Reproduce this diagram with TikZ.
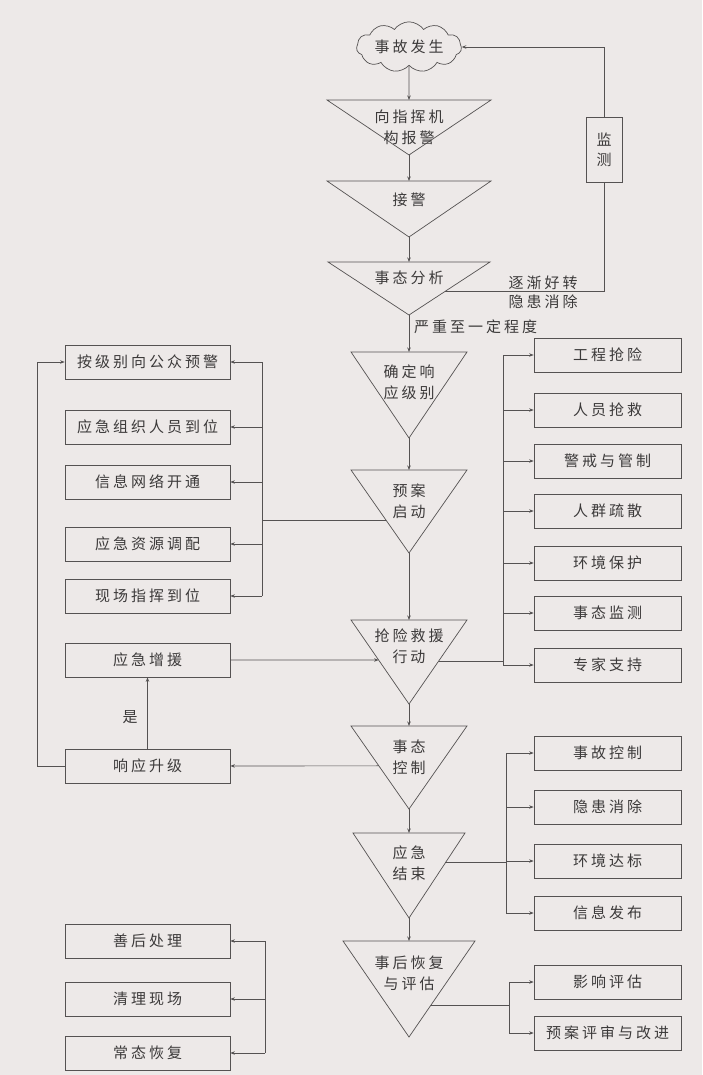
\documentclass[tikz,border=0pt]{standalone}
\usepackage{fontspec}
\setmainfont{Noto Sans CJK SC}[LetterSpace=20]
\usetikzlibrary{shapes.symbols,arrows.meta,calc}
\definecolor{bgc}{RGB}{237,233,232}
\definecolor{lnc}{RGB}{85,82,82}
\definecolor{txc}{RGB}{60,58,58}
% triangle: name, x, top, apex, half width, text y, text
\newcommand\tri[7]{%
  \coordinate (#1-tl) at (#2-#5,#3);
  \coordinate (#1-tr) at (#2+#5,#3);
  \coordinate (#1-t) at (#2,#3);
  \coordinate (#1-b) at (#2,#4);
  \draw[ln] (#1-tl) -- (#1-tr) -- (#1-b) -- cycle;
  \node[lbl] (#1) at (#2,#6) {#7};}
\begin{document}
\begin{tikzpicture}
  [x=1pt,y=-1pt,
   ln/.style={draw=lnc,line width=0.7pt},
   arr/.style={ln,-{Stealth[length=4.5pt,width=3.5pt]}},
   lbl/.style={align=center,inner sep=0pt,text=txc,font=\fontsize{15}{21}\selectfont},
   box/.style={ln,lbl,minimum width=165pt,minimum height=34pt},
   rbox/.style={box,minimum width=147pt},
   cld/.style={ln,lbl,cloud,cloud puffs=11,cloud puff arc=110,aspect=2.6,
     minimum width=105pt,minimum height=40pt},
   every edge/.style={arr}]
  \fill[bgc] (0,0) rectangle (702,1075);
  \useasboundingbox (0,0) rectangle (702,1075);

  \node[cld] (n0) at (409,47) {事故发生};
  \tri{t1}{409}{100}{155}{82}{127.5}{向指挥机\\构报警}
  \tri{t2}{409}{181}{237}{82}{200}{接警}
  \tri{t3}{409}{262}{315}{81}{278}{事态分析}
  \tri{t4}{409}{352}{438}{58}{382.5}{确定响\\应级别}
  \tri{t5}{409}{470}{553}{58}{501}{预案\\启动}
  \tri{t6}{409}{620}{704}{58}{646}{抢险救援\\行动}
  \tri{t7}{409}{726}{809}{58}{757}{事态\\控制}
  \tri{t8}{409}{833}{918}{56}{863.5}{应急\\结束}
  \tri{t9}{409}{941}{1037}{66}{973.5}{事后恢复\\与评估}

  \node[box,minimum width=36pt,minimum height=65pt,font=\fontsize{15}{20}\selectfont] (mon) at (604,150) {监\\测};
  \node[lbl,font=\fontsize{15}{19}\selectfont] (p1) at (543,292.5) {逐渐好转\\隐患消除};
  \node[lbl,anchor=west] (p2) at (414,327) {严重至一定程度};
  \node[lbl] (p3) at (130,717) {是};

  \node[box] (l1) at (147.5,362) {按级别向公众预警};
  \node[box] (l2) at (147.5,427) {应急组织人员到位};
  \node[box] (l3) at (147.5,482) {信息网络开通};
  \node[box] (l4) at (147.5,544) {应急资源调配};
  \node[box] (l5) at (147.5,596) {现场指挥到位};
  \node[box] (l6) at (147.5,660) {应急增援};
  \node[box] (l7) at (147.5,766) {响应升级};
  \node[box] (l8) at (147.5,941) {善后处理};
  \node[box] (l9) at (147.5,999) {清理现场};
  \node[box] (l10) at (147.5,1053) {常态恢复};

  \node[rbox] (r1) at (607.5,355) {工程抢险};
  \node[rbox] (r2) at (607.5,410) {人员抢救};
  \node[rbox] (r3) at (607.5,461) {警戒与管制};
  \node[rbox] (r4) at (607.5,511) {人群疏散};
  \node[rbox] (r5) at (607.5,563) {环境保护};
  \node[rbox] (r6) at (607.5,613) {事态监测};
  \node[rbox] (r7) at (607.5,665) {专家支持};
  \node[rbox] (r8) at (607.5,753) {事故控制};
  \node[rbox] (r9) at (607.5,807) {隐患消除};
  \node[rbox] (r10) at (607.5,861) {环境达标};
  \node[rbox] (r11) at (607.5,913) {信息发布};
  \node[rbox] (r12) at (607.5,982) {影响评估};
  \node[rbox] (r13) at (607.5,1033) {预案评审与改进};

  \coordinate (lb) at (262,0);
  \coordinate (lc) at (265,0);
  \coordinate (ra) at (503,0);
  \coordinate (rb) at (506,0);
  \coordinate (rc) at (509,0);
  \coordinate (c1) at ($(t3-tr)!0.55!(t3-b)$);
  \coordinate (c2) at ($(t5-tl)!0.61!(t5-b)$);
  \coordinate (c3) at ($(t6-tl)!0.476!(t6-b)$);
  \coordinate (c4) at ($(t7-tl)!0.48!(t7-b)$);
  \coordinate (c5) at ($(t6-tr)!0.49!(t6-b)$);
  \coordinate (c6) at ($(t8-tr)!0.35!(t8-b)$);
  \coordinate (c7) at ($(t9-tr)!0.67!(t9-b)$);

\path
    (n0) edge (t1-t)
    (t1-b) edge (t2-t)
    (t2-b) edge (t3-t)
    (t3-b) edge (t4-t)
    (t4-b) edge (t5-t)
    (t5-b) edge (t6-t)
    (t6-b) edge (t7-t)
    (t7-b) edge (t8-t)
    (t8-b) edge (t9-t)
    ;

  \draw[ln] (c1) -| (mon.south);
  \draw[arr] (mon.north) |- (n0.east);

  \draw[ln] (lb |- l1) -- (lb |- l5);
  \draw[ln] (c2) -- (c2 -| lb);
\path
    (lb |- l1) edge (l1)
    (lb |- l2) edge (l2)
    (lb |- l3) edge (l3)
    (lb |- l4) edge (l4)
    (lb |- l5) edge (l5)
    (l6) edge (c3)
    (c4) edge (l7)
    (l7) edge (l6)
    ;
  \draw[arr] (l7.west) -- ++(-27,0) |- (l1.west);

  \draw[ln] (lc |- l8) -- (lc |- l10);
\path
    (lc |- l8) edge (l8)
    (lc |- l9) edge (l9)
    (lc |- l10) edge (l10)
    ;

  \draw[ln] (ra |- r1) -- (ra |- r7);
  \draw[ln] (c5) -- (c5 -| ra);
\path
    (ra |- r1) edge (r1)
    (ra |- r2) edge (r2)
    (ra |- r3) edge (r3)
    (ra |- r4) edge (r4)
    (ra |- r5) edge (r5)
    (ra |- r6) edge (r6)
    (ra |- r7) edge (r7)
    ;

  \draw[ln] (rb |- r8) -- (rb |- r11);
  \draw[ln] (c6) -- (c6 -| rb);
\path
    (rb |- r8) edge (r8)
    (rb |- r9) edge (r9)
    (rb |- r10) edge (r10)
    (rb |- r11) edge (r11)
    ;

  \draw[ln] (rc |- r12) -- (rc |- r13);
  \draw[ln] (c7) -- (c7 -| rc);
\path
    (rc |- r12) edge (r12)
    (rc |- r13) edge (r13)
    ;
\end{tikzpicture}
\end{document}
